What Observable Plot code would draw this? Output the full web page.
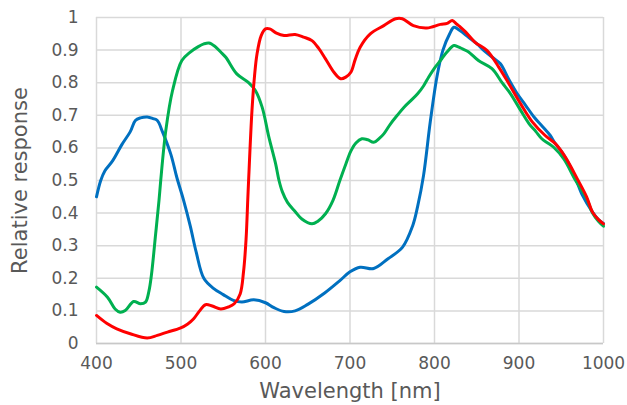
<!DOCTYPE html>
<html>
<head>
<meta charset="utf-8">
<script src="https://cdn.jsdelivr.net/npm/d3@7"></script>
<script src="https://cdn.jsdelivr.net/npm/@observablehq/plot@0.6"></script>
<style>
  html, body { margin: 0; padding: 0; background: #fff; }
  #chart { width: 627px; height: 405px; }
  svg { font-family: "DejaVu Sans", sans-serif; }
</style>
</head>
<body>
<div id="chart"></div>
<script>
const xTicks = [400, 500, 600, 700, 800, 900, 1000];
const yTicks = [0, 0.1, 0.2, 0.3, 0.4, 0.5, 0.6, 0.7, 0.8, 0.9, 1];
const xLabel = "Wavelength [nm]";
const yLabel = "Relative response";

const blueWl = [400,405,410,419,430,440,446,452,460,467,472,478,488,495,503,511,518,527,538,550,562,572,586,600,610,622,635,650,670,688,700,712,728,745,762,774,780,787,795,803,810,818,823,830,840,850,860,870,878,888,898,908,918,928,937,943,950,957,965,975,987,994,1000];
const blueVal = [0.45,0.50,0.53,0.56,0.61,0.65,0.684,0.692,0.695,0.69,0.684,0.65,0.58,0.51,0.44,0.36,0.28,0.20,0.17,0.15,0.132,0.127,0.134,0.125,0.11,0.098,0.10,0.12,0.155,0.193,0.22,0.234,0.23,0.26,0.295,0.36,0.42,0.515,0.68,0.82,0.90,0.95,0.97,0.96,0.94,0.92,0.895,0.875,0.858,0.81,0.766,0.73,0.694,0.665,0.638,0.613,0.59,0.561,0.52,0.455,0.403,0.38,0.368];

const greenWl = [400,413,422,428,434,444,452,458,462,465,470,474,476,482,490,501,511,520,527,533,540,547,553,566,580,588,596,604,612,616,620,626,635,643,655,662,671,680,688,695,701,707,714,721,728,735,740,748,756,764,772,780,787,793,800,807,815,823,828,833,840,852,868,880,890,902,912,920,927,934,941,953,967,980,987,994,1000];
const greenVal = [0.173,0.142,0.106,0.096,0.101,0.129,0.122,0.127,0.16,0.21,0.336,0.44,0.50,0.653,0.776,0.868,0.894,0.91,0.919,0.922,0.912,0.894,0.878,0.827,0.80,0.776,0.725,0.633,0.551,0.50,0.465,0.433,0.405,0.382,0.367,0.375,0.398,0.44,0.50,0.55,0.59,0.615,0.628,0.625,0.617,0.63,0.643,0.674,0.70,0.725,0.745,0.766,0.79,0.817,0.845,0.868,0.895,0.914,0.91,0.904,0.895,0.868,0.843,0.80,0.766,0.715,0.674,0.65,0.628,0.615,0.602,0.566,0.50,0.445,0.40,0.375,0.36];

const redWl = [400,412,424,440,460,472,484,499,508,515,522,529,537,547,556,563,570,574,577,579,580,584,587,590,595,600,605,613,622,635,645,655,663,671,681,689,695,701,706,712,724,740,754,762,775,791,807,815,821,826,831,837,848,862,876,888,902,916,931,943,955,969,980,987,994,1000];
const redVal = [0.086,0.062,0.045,0.03,0.017,0.025,0.035,0.047,0.06,0.076,0.10,0.119,0.115,0.106,0.112,0.122,0.152,0.22,0.32,0.44,0.5,0.715,0.82,0.889,0.945,0.965,0.965,0.952,0.945,0.948,0.94,0.929,0.905,0.873,0.832,0.812,0.817,0.832,0.87,0.909,0.95,0.975,0.996,0.996,0.975,0.968,0.979,0.982,0.991,0.98,0.97,0.955,0.924,0.899,0.848,0.797,0.735,0.679,0.638,0.613,0.571,0.505,0.45,0.403,0.38,0.367];

const seriesNames = ["Blue channel", "Green channel", "Red channel"];
const seriesColors = ["#0070c0", "#00b050", "#ff0000"];

function toRows(name, wl, val) {
  return wl.map((w, i) => ({series: name, wl: w, v: val[i]}));
}
const rows = [
  ...toRows(seriesNames[0], blueWl, blueVal),
  ...toRows(seriesNames[1], greenWl, greenVal),
  ...toRows(seriesNames[2], redWl, redVal)
];

const fmt = d => String(+d.toFixed(1));

const chart = Plot.plot({
  width: 627,
  height: 405,
  marginLeft: 96,
  marginRight: 24,
  marginTop: 17,
  marginBottom: 62,
  style: {fontFamily: "'DejaVu Sans', sans-serif", background: "#fff"},
  x: {domain: [400, 1000]},
  y: {domain: [0, 1]},
  color: {type: "ordinal", domain: seriesNames, range: seriesColors},
  marks: [
    Plot.ruleX(xTicks, {stroke: "#d9d9d9", strokeWidth: 1.5}),
    Plot.ruleY(yTicks, {stroke: "#d9d9d9", strokeWidth: 1.5}),
    Plot.ruleY([0], {stroke: "#c8c8c8", strokeWidth: 1.5}),
    Plot.axisX(xTicks, {tickSize: 0, tickPadding: 13, fontSize: 17, fill: "#595959", label: null, tickFormat: d => String(d)}),
    Plot.axisY(yTicks, {tickSize: 0, tickPadding: 18, fontSize: 17, fill: "#595959", label: null, tickFormat: fmt}),
    Plot.line(rows, {x: "wl", y: "v", z: "series", stroke: "series", strokeWidth: 3, curve: "catmull-rom"}),
    Plot.text([xLabel], {frameAnchor: "bottom", lineAnchor: "middle", dy: 48, fontSize: 21, fill: "#595959", text: d => d}),
    Plot.text([yLabel], {frameAnchor: "left", textAnchor: "middle", lineAnchor: "middle", dx: -76, rotate: -90, fontSize: 21, fill: "#595959", text: d => d})
  ]
});
document.getElementById("chart").appendChild(chart);
</script>
</body>
</html>
